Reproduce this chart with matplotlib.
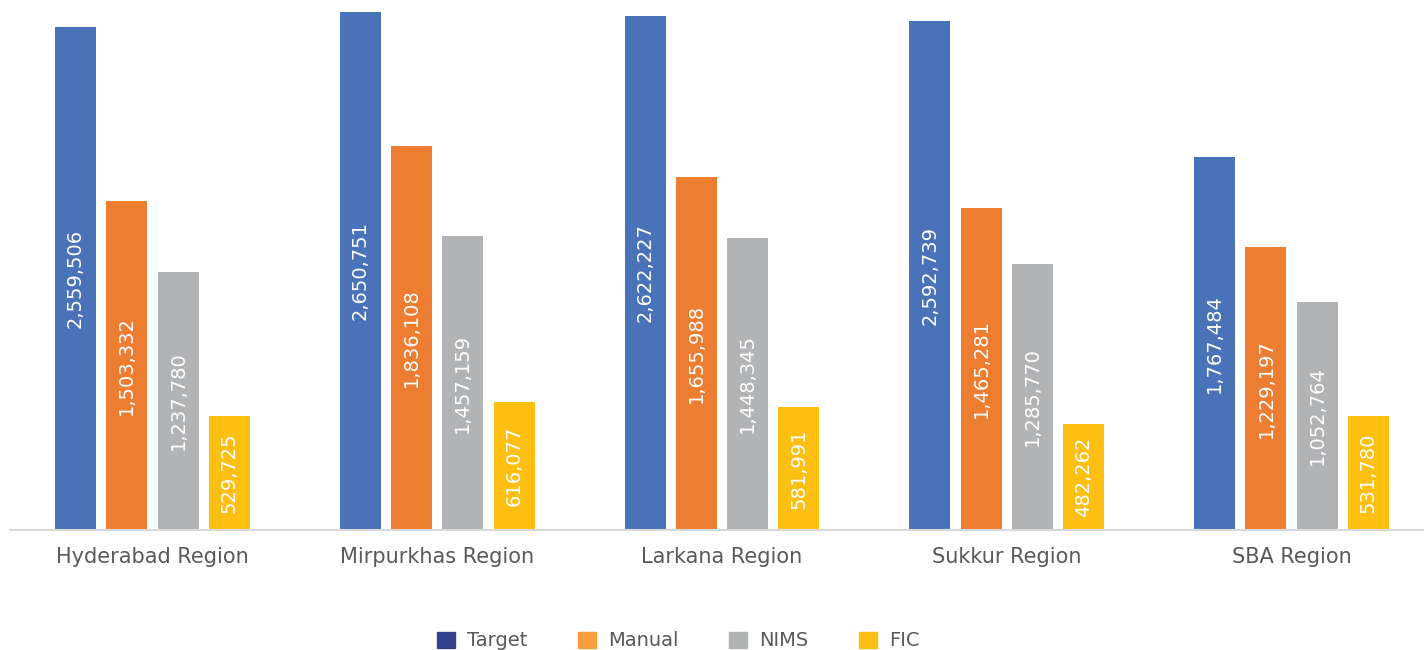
import matplotlib.pyplot as plt
import numpy as np
from matplotlib.patches import Patch

# regions on the x axis
regions = ['Hyderabad Region', 'Mirpurkhas Region', 'Larkana Region', 'Sukkur Region', 'SBA Region']
series = ['Target', 'Manual', 'NIMS', 'FIC']

# numbers printed inside the bars
target_lbl = [2559506, 2650751, 2622227, 2592739, 1767484]
manual_lbl = [1503332, 1836108, 1655988, 1465281, 1229197]
nims_lbl = [1237780, 1457159, 1448345, 1285770, 1052764]
fic_lbl = [529725, 616077, 581991, 482262, 531780]

# bar heights as drawn in the picture (they do not follow the labels exactly)
target_h = [2574000, 2650800, 2630300, 2604700, 1908800]
manual_h = [1683600, 1965000, 1806400, 1647800, 1448200]
nims_h = [1320300, 1504500, 1494300, 1361200, 1166800]
fic_h = [583400, 655000, 629400, 542400, 583400]

bar_colors = ['#4A72B8', '#ED7D31', '#B2B3B5', '#FDBF12']
legend_colors = ['#33418F', '#F89E3E', '#B2B3B5', '#FDBF12']

plt.rcParams['font.family'] = ['DejaVu Sans']

fig = plt.figure(figsize=(14.24, 6.5), dpi=100)
ax = fig.add_axes([10 / 1424, 120 / 650, 1414 / 1424, 530 / 650])

x = np.arange(len(regions))
width = 0.144
offsets = [-0.27, -0.09, 0.09, 0.27]

heights = [target_h, manual_h, nims_h, fic_h]
labels = [target_lbl, manual_lbl, nims_lbl, fic_lbl]

for i in range(4):
    bars = ax.bar(x + offsets[i], heights[i], width, color=bar_colors[i], zorder=2)
    for b, v in zip(bars, labels[i]):  # value text in the middle of each bar
        ax.text(b.get_x() + b.get_width() / 2, b.get_height() / 2, f'{v:,}',
                rotation=90, ha='center', va='center', color='white', fontsize=14)

ax.set_xlim(-0.5, -0.5 + 1414 / 284.8)
ax.set_ylim(0, 2712000)
ax.set_xticks(x)
ax.set_xticklabels(regions, fontsize=15, color='#595959')
ax.tick_params(axis='x', length=0, pad=12)
ax.set_yticks([])
for s in ['top', 'right', 'left']:
    ax.spines[s].set_visible(False)
ax.spines['bottom'].set_color('#D9D9D9')
ax.spines['bottom'].set_linewidth(1.5)

handles = [Patch(color=c) for c in legend_colors]
leg = fig.legend(handles, series, loc='center left', bbox_to_anchor=(437 / 1424, 1 - 641 / 650),
                 ncol=4, frameon=False, fontsize=14, handlelength=0.9, handleheight=0.9,
                 handletextpad=0.65, columnspacing=2.6, borderpad=0, borderaxespad=0)
for t in leg.get_texts():
    t.set_color('#595959')

plt.savefig('out.png', dpi=100)
